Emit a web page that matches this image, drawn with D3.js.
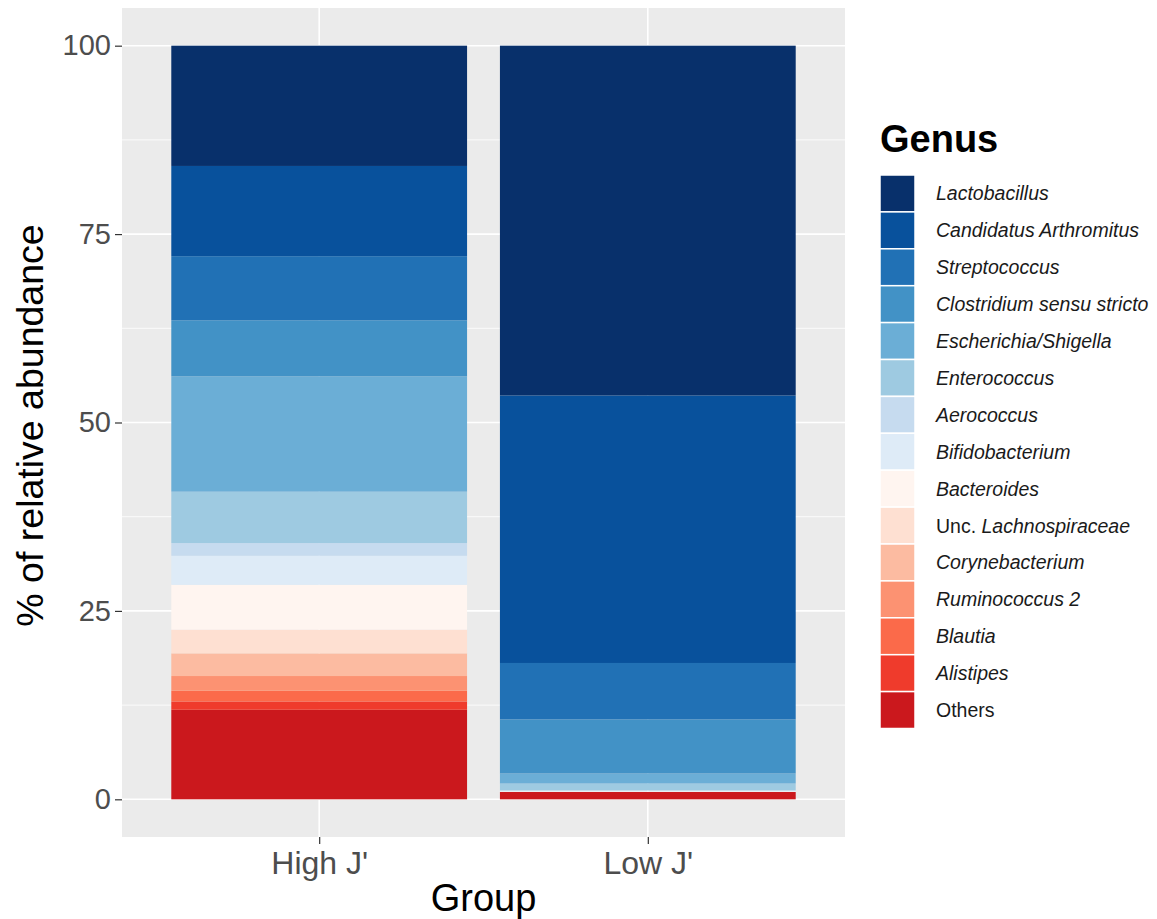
<!DOCTYPE html>
<html>
<head>
<meta charset="utf-8">
<script src="https://cdn.jsdelivr.net/npm/d3@7"></script>
<style>
  body { margin: 0; background: #fff; font-family: "Liberation Sans", Arial, sans-serif; }
</style>
</head>
<body>
<div id="chart"></div>
<script>
// data
const groups = ["High J'", "Low J'"]
const genera = ["Lactobacillus", "Candidatus Arthromitus", "Streptococcus", "Clostridium sensu stricto",
  "Escherichia/Shigella", "Enterococcus", "Aerococcus", "Bifidobacterium", "Bacteroides",
  "Unc. Lachnospiraceae", "Corynebacterium", "Ruminococcus 2", "Blautia", "Alistipes", "Others"]
const highJ = [15.96, 11.97, 8.51, 7.44, 15.30, 6.82, 1.69, 3.85, 5.95, 3.14, 3.01, 1.96, 1.41, 1.11, 11.88]
const lowJ = [46.41, 35.50, 7.49, 7.18, 1.33, 0.89, 0.08, 0.08, 0.07, 0.0, 0.0, 0.0, 0.0, 0.0, 0.97]
const colours = ["#08306B", "#08519C", "#2171B5", "#4292C6", "#6BAED6", "#9ECAE1", "#C6DBEF", "#DEEBF7",
  "#FFF5F0", "#FEE0D2", "#FCBBA1", "#FC9272", "#FB6A4A", "#EF3B2C", "#CB181D"]
const yTicks = [0, 25, 50, 75, 100]

const width = 1157, height = 919
const panel = { left: 122, right: 845, top: 8, bottom: 837 }

const svg = d3.select("#chart").append("svg")
  .attr("width", width)
  .attr("height", height)

// build rows for stacking
const rows = groups.map((g, i) => {
  const r = { group: g }
  genera.forEach((gen, j) => { r[gen] = (i === 0 ? highJ : lowJ)[j] })
  return r
})
// ggplot stacks first level on top, so stack reversed order from the bottom
const stack = d3.stack().keys(genera.slice().reverse())
const series = stack(rows)

const y = d3.scaleLinear().domain([-5, 105]).range([panel.bottom, panel.top])
// discrete scale with 0.6 expansion each side
const xc = d3.scaleLinear().domain([0.4, 2.6]).range([panel.left, panel.right])
const barW = xc(1.45) - xc(1)
const colour = d3.scaleOrdinal().domain(genera).range(colours)

// panel background
svg.append("rect")
  .attr("x", panel.left).attr("y", panel.top)
  .attr("width", panel.right - panel.left).attr("height", panel.bottom - panel.top)
  .attr("fill", "#EBEBEB")

// minor grid
svg.append("g").selectAll("line")
  .data([12.5, 37.5, 62.5, 87.5])
  .enter().append("line")
  .attr("x1", panel.left).attr("x2", panel.right)
  .attr("y1", d => y(d)).attr("y2", d => y(d))
  .attr("stroke", "#fff").attr("stroke-width", 0.8)

// major grid
svg.append("g").selectAll("line")
  .data(yTicks)
  .enter().append("line")
  .attr("x1", panel.left).attr("x2", panel.right)
  .attr("y1", d => y(d)).attr("y2", d => y(d))
  .attr("stroke", "#fff").attr("stroke-width", 1.6)

svg.append("g").selectAll("line")
  .data(groups)
  .enter().append("line")
  .attr("x1", (d, i) => xc(i + 1)).attr("x2", (d, i) => xc(i + 1))
  .attr("y1", panel.top).attr("y2", panel.bottom)
  .attr("stroke", "#fff").attr("stroke-width", 1.6)

// bars
svg.append("g").selectAll("g")
  .data(series)
  .enter().append("g")
  .attr("fill", d => colour(d.key))
  .selectAll("rect")
  .data(d => d)
  .enter().append("rect")
  .attr("x", (d, i) => xc(i + 1) - barW)
  .attr("width", barW * 2)
  .attr("y", d => y(d[1]))
  .attr("height", d => Math.max(0, y(d[0]) - y(d[1])))

// y axis
const yAxis = svg.append("g")
  .attr("transform", `translate(${panel.left},0)`)
  .call(d3.axisLeft(y).tickValues(yTicks).tickSize(7).tickPadding(4))
yAxis.select(".domain").remove()
yAxis.selectAll(".tick line").attr("stroke", "#333").attr("stroke-width", 1.2)
yAxis.selectAll(".tick text")
  .attr("fill", "#4D4D4D")
  .style("font-size", "29px")
  .style("font-family", "Liberation Sans, Arial, sans-serif")

// x axis
const xAxis = svg.append("g")
  .attr("transform", `translate(0,${panel.bottom})`)
  .call(d3.axisBottom(xc).tickValues([1, 2]).tickFormat((d, i) => groups[i]).tickSize(7).tickPadding(6))
xAxis.select(".domain").remove()
xAxis.selectAll(".tick line").attr("stroke", "#333").attr("stroke-width", 1.2)
xAxis.selectAll(".tick text")
  .attr("fill", "#4D4D4D")
  .attr("dy", "0.76em")
  .style("font-size", "32px")
  .style("font-family", "Liberation Sans, Arial, sans-serif")

// axis titles
svg.append("text")
  .attr("x", (panel.left + panel.right) / 2)
  .attr("y", 911)
  .attr("text-anchor", "middle")
  .style("font-size", "38px")
  .text("Group")

svg.append("text")
  .attr("transform", `translate(43,${(panel.top + panel.bottom) / 2 + 3}) rotate(-90)`)
  .attr("text-anchor", "middle")
  .style("font-size", "37.5px")
  .text("% of relative abundance")

// legend
const legend = svg.append("g").attr("transform", "translate(880,0)")
legend.append("text")
  .attr("x", 0).attr("y", 152)
  .style("font-size", "38px")
  .style("font-weight", "bold")
  .text("Genus")

const keyH = 36.9
const items = legend.selectAll(".item")
  .data(genera)
  .enter().append("g")
  .attr("class", "item")
  .attr("transform", (d, i) => `translate(0,${175 + i * keyH})`)

items.append("rect")
  .attr("x", 0).attr("y", 0)
  .attr("width", 35).attr("height", keyH)
  .attr("fill", d => colour(d))
  .attr("stroke", "#fff").attr("stroke-width", 1.5)

const labels = items.append("text")
  .attr("x", 56)
  .attr("y", keyH / 2 + 7)
  .style("font-size", "19.5px")
  .attr("fill", "#1a1a1a")

labels.each(function (d) {
  const t = d3.select(this)
  if (d === "Others") {
    t.text(d)
  } else if (d.startsWith("Unc. ")) {
    t.append("tspan").text("Unc. ")
    t.append("tspan").style("font-style", "italic").text(d.slice(5))
  } else {
    t.style("font-style", "italic").text(d)
  }
})
</script>
</body>
</html>
